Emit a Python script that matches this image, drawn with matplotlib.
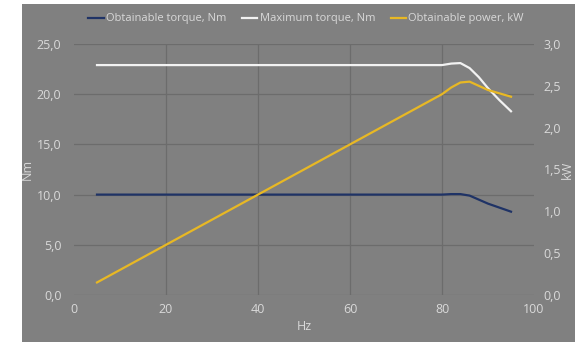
import matplotlib
matplotlib.use("Agg")
import matplotlib.pyplot as plt
from matplotlib.patches import Rectangle
from matplotlib.ticker import FuncFormatter, MultipleLocator

# Data
hz = [5, 80, 82, 84, 86, 88, 90, 92.5, 95]
obtainable_torque = [10.0, 10.0, 10.05, 10.05, 9.9, 9.5, 9.1, 8.7, 8.3]
maximum_torque = [22.9, 22.9, 23.05, 23.1, 22.6, 21.7, 20.6, 19.4, 18.3]
obtainable_power = [0.15, 2.40, 2.48, 2.54, 2.55, 2.50, 2.45, 2.41, 2.37]

bg = "#808080"
grid_c = "#6c6c6c"
txt = "#d9d9d9"

plt.rcParams["font.family"] = ["Open Sans", "DejaVu Sans"]

fig = plt.figure(figsize=(5.75, 3.42), dpi=100)
fig.patch.set_facecolor("white")
fig.patches.append(Rectangle((22 / 575, 0), 1, 1 - 4 / 342, transform=fig.transFigure,
                             facecolor=bg, edgecolor="none", zorder=-10))

ax = fig.add_axes([74 / 575, 1 - 295 / 342, 460 / 575, 251 / 342])
ax.set_facecolor(bg)
ax2 = ax.twinx()

l1, = ax.plot(hz, obtainable_torque, color="#1f3366", lw=1.6, label="Obtainable torque, Nm")
l2, = ax.plot(hz, maximum_torque, color="#f2f2f2", lw=1.6, label="Maximum torque, Nm")
l3, = ax2.plot(hz, obtainable_power, color="#e8b824", lw=1.6, label="Obtainable power, kW")

ax.set_xlim(0, 100)
ax.set_ylim(0, 25)
ax2.set_ylim(0, 3)
ax.xaxis.set_major_locator(MultipleLocator(20))
ax.yaxis.set_major_locator(MultipleLocator(5))
ax2.yaxis.set_major_locator(MultipleLocator(0.5))

comma = FuncFormatter(lambda v, p: f"{v:.1f}".replace(".", ","))
ax.yaxis.set_major_formatter(comma)
ax2.yaxis.set_major_formatter(comma)

for a in (ax, ax2):
    for s in a.spines.values():
        s.set_visible(False)
    a.tick_params(length=0, colors=txt, labelsize=9)

ax.tick_params(axis="y", pad=9)
ax2.tick_params(axis="y", pad=7)
ax.tick_params(axis="x", pad=6)

ax.yaxis.grid(True, color=grid_c, lw=0.9)
ax.set_axisbelow(True)
for x in [20, 40, 60, 80]:
    ax.axvline(x, color=grid_c, lw=0.9, zorder=0)

ax.set_xlabel("Hz", color=txt, fontsize=9, labelpad=3)
ax.set_ylabel("Nm", color=txt, fontsize=9, labelpad=2)
ax2.set_ylabel("kW", color=txt, fontsize=9, labelpad=0)

leg = fig.legend(handles=[l1, l2, l3], loc="center", bbox_to_anchor=(306 / 575, 1 - 19 / 342),
                 ncol=3, frameon=False, fontsize=8, handlelength=1.4, handletextpad=0.2,
                 columnspacing=1.4)
for t in leg.get_texts():
    t.set_color(txt)

fig.savefig("out.png", dpi=100, facecolor=fig.get_facecolor())
